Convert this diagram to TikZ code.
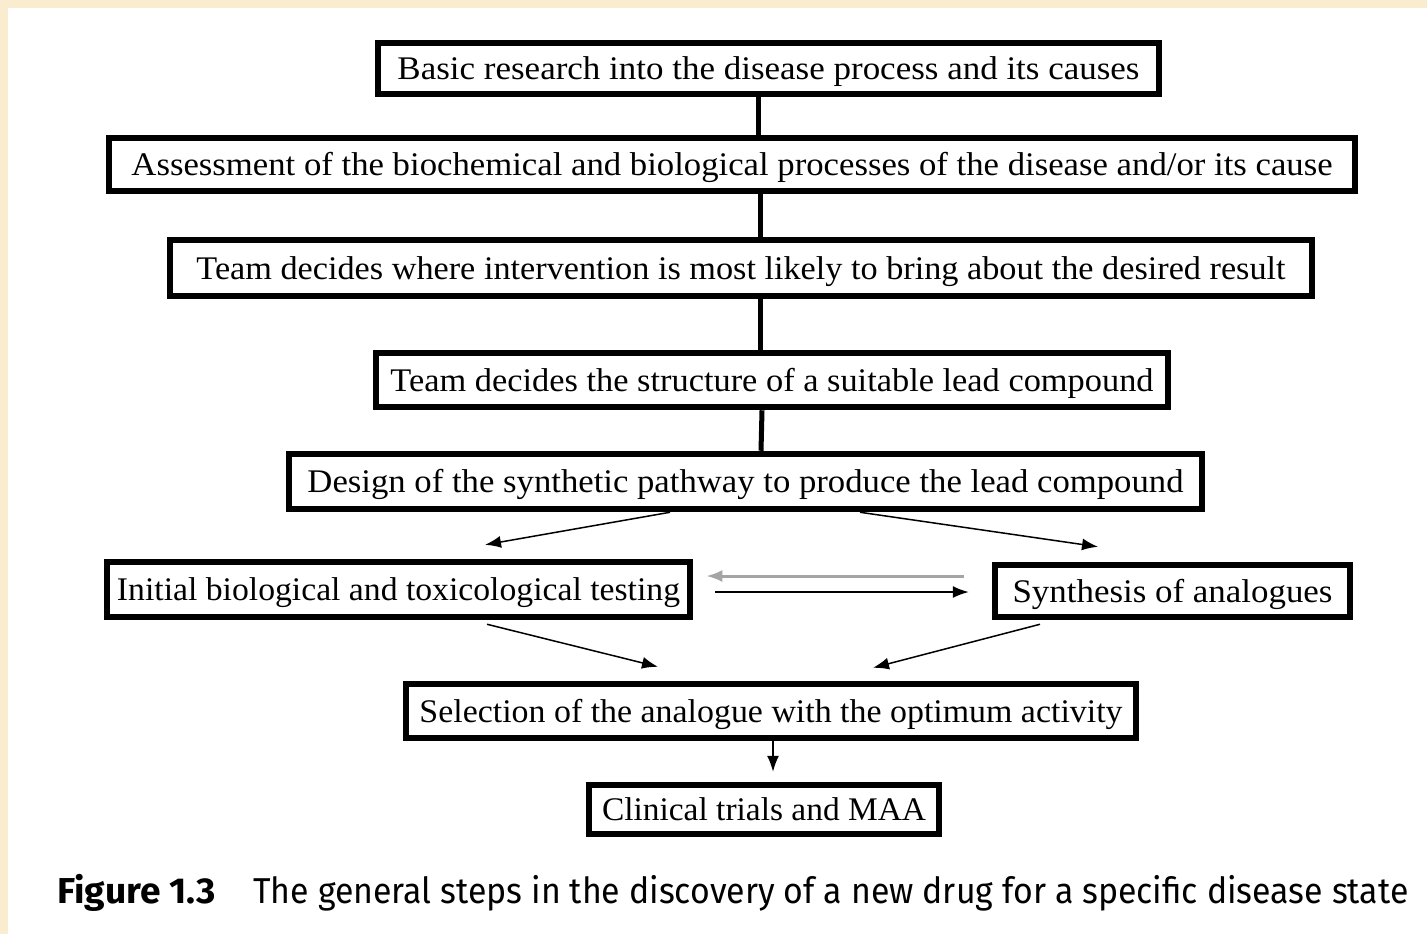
\documentclass[tikz,border=0pt]{standalone}
\usepackage{fontspec}
\setmainfont{Liberation Serif}
\newfontfamily\capfont{Fira Sans}
\usepackage{graphicx}
\usetikzlibrary{arrows.meta}
\definecolor{paper}{RGB}{250,236,207}
\definecolor{backarrow}{RGB}{165,165,165}
\newcommand{\fitw}[2]{\resizebox{#1}{\height}{#2}}
\tikzset{stage/.style={
    draw, line width=3.25pt, inner sep=0pt,
    text height=11pt, text depth=0pt,
    font=\fontsize{16.5}{18}\selectfont
  },
  link/.style={line width=2.5pt},
  flow/.style={line width=0.75pt, -{Latex[length=8pt,width=6pt]}},
  caption/.style={anchor=base west, inner sep=0pt, font=\capfont\fontsize{18}{20}\selectfont}
}

\begin{document}
\begin{tikzpicture}[x=0.5pt,y=-0.5pt]
  \useasboundingbox (0,0) rectangle (1427,934);
  \fill[paper] (0,0) rectangle (1427,934);
  \fill[white] (8,8) rectangle (1427,934);
  % the steps
  \node[stage, minimum width=390.5pt, minimum height=25.5pt] (basic) at (768.5,68.5) {\fitw{371pt}{Basic research into the disease process and its causes}};
  \node[stage, minimum width=623pt, minimum height=26.5pt] (assess) at (732,164.5) {\fitw{600.5pt}{Assessment of the biochemical and biological processes of the disease and/or its cause}};
  \node[stage, minimum width=571pt, minimum height=28pt] (where) at (741,268) {\fitw{544.5pt}{Team decides where intervention is most likely to bring about the desired result}};
  \node[stage, minimum width=396pt, minimum height=27pt] (lead) at (772,380) {\fitw{381.5pt}{Team decides the structure of a suitable lead compound}};
  \node[stage, minimum width=456.5pt, minimum height=27.5pt] (design) at (745.5,481.5) {\fitw{438pt}{Design of the synthetic pathway to produce the lead compound}};
  \node[stage, minimum width=291.5pt, minimum height=27.5pt] (initial) at (398.5,589.5) {\fitw{281.5pt}{Initial biological and toxicological testing}};
  \node[stage, minimum width=177.5pt, minimum height=26pt] (synth) at (1172.5,591) {\fitw{160pt}{Synthesis of analogues}};
  \node[stage, minimum width=365pt, minimum height=27pt] (select) at (771,711) {\fitw{351.5pt}{Selection of the analogue with the optimum activity}};
  \node[stage, minimum width=175pt, minimum height=24.5pt] (clinical) at (764,809.5) {\fitw{162pt}{Clinical trials and MAA}};
  % connectors
  \draw[link] ([shift={(-10.5,0)}]basic.south) -- ([shift={(26,0)}]assess.north);
  \draw[link] ([shift={(28,0)}]assess.south) -- ([shift={(19,0)}]where.north);
  \draw[link] ([shift={(19,0)}]where.south) -- ([shift={(-12,0)}]lead.north);
  \draw[link] ([shift={(-10,0)}]lead.south) -- ([shift={(15.5,0)}]design.north);
  \draw[flow] ([shift={(-75.5,0)}]design.south) -- ([shift={(86.5,-14)}]initial.north);
  \draw[flow] ([shift={(114.5,0)}]design.south) -- ([shift={(-74.5,-15)}]synth.north);
  \draw[flow, backarrow, line width=1.5pt] ([shift={(-28,-15)}]synth.west) -- ([shift={(13,-13.5)}]initial.east);
  \draw[flow] ([shift={(22,2.5)}]initial.east) -- ([shift={(-23,1)}]synth.west);
  \draw[flow] ([shift={(88.5,4)}]initial.south) -- ([shift={(-113,-14)}]select.north);
  \draw[flow] ([shift={(-132.5,4)}]synth.south) -- ([shift={(102,-13)}]select.north);
  \draw[flow] ([shift={(2,0)}]select.south) -- ([shift={(9,-10)}]clinical.north);
  % caption
  \node[caption] (fignum) at (57,903) {\resizebox{79pt}{\height}{\bfseries Figure 1.3}};
  \node[caption] (figtext) at (253,903) {\resizebox{577.5pt}{\height}{The general steps in the discovery of a new drug for a specific disease state}};
\end{tikzpicture}
\end{document}
